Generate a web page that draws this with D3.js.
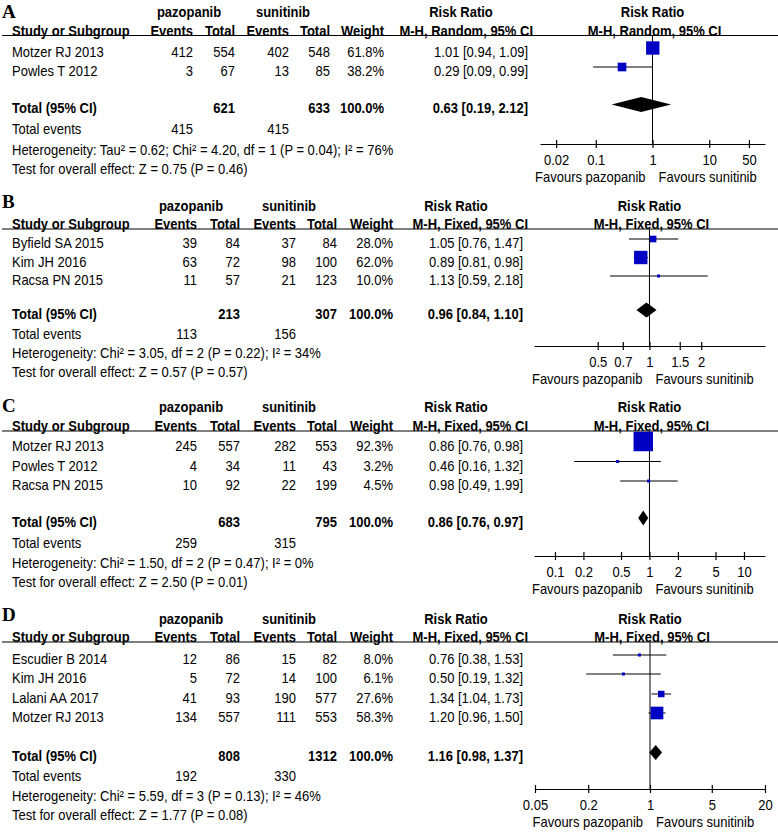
<!DOCTYPE html>
<html lang="en">
<head>
<meta charset="UTF-8">
<title>Pazopanib vs sunitinib - forest plots</title>
<script src="https://d3js.org/d3.v7.min.js"></script>
<style>
    body { margin: 0; background: #fff; }
    svg text { font-family: "Liberation Sans", Arial, sans-serif; font-size: 13px; fill: #000; }
    .bold { font-weight: bold; }
    .letter { font-family: "Liberation Serif", "Times New Roman", serif; font-size: 19px; font-weight: bold; }
</style>
</head>
<body>
<svg width="778" height="832"></svg>
<script>
    // ---------- panel A (M-H, Random) ----------
    const studiesA = ["Motzer RJ 2013", "Powles T 2012"];
    const evPazA = [412, 3];
    const nPazA = [554, 67];
    const evSunA = [402, 13];
    const nSunA = [548, 85];
    const weightA = [61.8, 38.2];
    const rrA = [[1.01, 0.94, 1.09], [0.29, 0.09, 0.99]];
    const totalA = [621, 633, 415, 415];   // n paz, n sun, events paz, events sun
    const pooledA = [0.63, 0.19, 2.12];
    const hetA = "Heterogeneity: Tau\u00b2 = 0.62; Chi\u00b2 = 4.20, df = 1 (P = 0.04); I\u00b2 = 76%";
    const testA = "Test for overall effect: Z = 0.75 (P = 0.46)";
    const ticksA = [0.02, 0.1, 1, 10, 50];

    // ---------- panel B ----------
    const studiesB = ["Byfield SA 2015", "Kim JH 2016", "Racsa PN 2015"];
    const evPazB = [39, 63, 11];
    const nPazB = [84, 72, 57];
    const evSunB = [37, 98, 21];
    const nSunB = [84, 100, 123];
    const weightB = [28.0, 62.0, 10.0];
    const rrB = [[1.05, 0.76, 1.47], [0.89, 0.81, 0.98], [1.13, 0.59, 2.18]];
    const totalB = [213, 307, 113, 156];
    const pooledB = [0.96, 0.84, 1.10];
    const hetB = "Heterogeneity: Chi\u00b2 = 3.05, df = 2 (P = 0.22); I\u00b2 = 34%";
    const testB = "Test for overall effect: Z = 0.57 (P = 0.57)";
    const ticksB = [0.5, 0.7, 1, 1.5, 2];

    // ---------- panel C ----------
    const studiesC = ["Motzer RJ 2013", "Powles T 2012", "Racsa PN 2015"];
    const evPazC = [245, 4, 10];
    const nPazC = [557, 34, 92];
    const evSunC = [282, 11, 22];
    const nSunC = [553, 43, 199];
    const weightC = [92.3, 3.2, 4.5];
    const rrC = [[0.86, 0.76, 0.98], [0.46, 0.16, 1.32], [0.98, 0.49, 1.99]];
    const totalC = [683, 795, 259, 315];
    const pooledC = [0.86, 0.76, 0.97];
    const hetC = "Heterogeneity: Chi\u00b2 = 1.50, df = 2 (P = 0.47); I\u00b2 = 0%";
    const testC = "Test for overall effect: Z = 2.50 (P = 0.01)";
    const ticksC = [0.1, 0.2, 0.5, 1, 2, 5, 10];

    // ---------- panel D ----------
    const studiesD = ["Escudier B 2014", "Kim JH 2016", "Lalani AA 2017", "Motzer RJ 2013"];
    const evPazD = [12, 5, 41, 134];
    const nPazD = [86, 72, 93, 557];
    const evSunD = [15, 14, 190, 111];
    const nSunD = [82, 100, 577, 553];
    const weightD = [8.0, 6.1, 27.6, 58.3];
    const rrD = [[0.76, 0.38, 1.53], [0.50, 0.19, 1.32], [1.34, 1.04, 1.73], [1.20, 0.96, 1.50]];
    const totalD = [808, 1312, 192, 330];
    const pooledD = [1.16, 0.98, 1.37];
    const hetD = "Heterogeneity: Chi\u00b2 = 5.59, df = 3 (P = 0.13); I\u00b2 = 46%";
    const testD = "Test for overall effect: Z = 1.77 (P = 0.08)";
    const ticksD = [0.05, 0.2, 1, 5, 20];

    const svg = d3.select("svg");

    // box width grows with weight
    const boxSize = d3.scaleLinear().domain([0, 100]).range([1, 21]);
    // the scanned figure is a little taller than wide, stretch glyphs to match
    const stretchY = 1.1;

    const colsWide = [197, 240, 296, 337, 393];

    const panels = [
        {letter: "A", method: "M-H, Random, 95% CI", studies: studiesA, evPaz: evPazA, nPaz: nPazA, evSun: evSunA, nSun: nSunA,
         weight: weightA, rr: rrA, total: totalA, pooled: pooledA, het: hetA, test: testA, ticks: ticksA,
         lay: {letterY: 11, head1: 12, line: 35.5, rows: [52, 71], total: 108, ev: 129, het: 150, test: 169, axis: 144,
               cols: [193, 235, 289, 330, 384], rrRight: 528, pazC: 189, sunC: 283,
               range: [540, 765], domain: [0.0104, 96]}},
        {letter: "B", method: "M-H, Fixed, 95% CI", studies: studiesB, evPaz: evPazB, nPaz: nPazB, evSun: evSunB, nSun: nSunB,
         weight: weightB, rr: rrB, total: totalB, pooled: pooledB, het: hetB, test: testB, ticks: ticksB,
         lay: {letterY: 201, head1: 206, line: 229, rows: [243, 261.5, 280], total: 313.5, ev: 334, het: 353, test: 372, axis: 346,
               cols: colsWide, rrRight: 523, pazC: 191, sunC: 289,
               range: [534, 765], domain: [0.213, 4.7]}},
        {letter: "C", method: "M-H, Fixed, 95% CI", studies: studiesC, evPaz: evPazC, nPaz: nPazC, evSun: evSunC, nSun: nSunC,
         weight: weightC, rr: rrC, total: totalC, pooled: pooledC, het: hetC, test: testC, ticks: ticksC,
         lay: {letterY: 405, head1: 407, line: 431, rows: [445.5, 465.5, 485], total: 521.5, ev: 543, het: 563, test: 582, axis: 556,
               cols: colsWide, rrRight: 523, pazC: 191, sunC: 289,
               range: [534, 765], domain: [0.06, 16.7]}},
        {letter: "D", method: "M-H, Fixed, 95% CI", studies: studiesD, evPaz: evPazD, nPaz: nPazD, evSun: evSunD, nSun: nSunD,
         weight: weightD, rr: rrD, total: totalD, pooled: pooledD, het: hetD, test: testD, ticks: ticksD,
         lay: {letterY: 614, head1: 619, line: 642, rows: [659, 678, 698, 717], total: 756, ev: 776, het: 796, test: 815, axis: 789,
               cols: colsWide, rrRight: 523, pazC: 191, sunC: 289,
               range: [535, 765], domain: [0.05, 20]}}
    ];

    function txt(g, x, y, s, anchor, bold) {
        return g.append("text")
            .attr("transform", "translate(" + x + "," + y + ") scale(1," + stretchY + ")")
            .attr("dy", "0.35em")
            .attr("text-anchor", anchor || "start")
            .attr("class", bold ? "bold" : null)
            .text(s);
    }

    function fmtRR(r) {
        return r[0].toFixed(2) + " [" + r[1].toFixed(2) + ", " + r[2].toFixed(2) + "]";
    }

    function drawPanel(p) {
        const L = p.lay;
        const g = svg.append("g");
        const x = d3.scaleLog().domain(L.domain).range(L.range);
        const x1 = x(1);
        const c = L.cols;

        // panel letter
        g.append("text").attr("class", "letter")
            .attr("x", 2).attr("y", L.letterY).attr("dy", "0.35em").text(p.letter);

        // header lines
        const h2 = L.line - 5;
        txt(g, L.pazC, L.head1, "pazopanib", "middle", true);
        txt(g, L.sunC, L.head1, "sunitinib", "middle", true);
        txt(g, L.rrRight - 67, L.head1, "Risk Ratio", "middle", true);
        txt(g, x1, L.head1, "Risk Ratio", "middle", true);

        txt(g, 12, h2, "Study or Subgroup", "start", true);
        ["Events", "Total", "Events", "Total", "Weight"].forEach(function (h, i) {
            txt(g, c[i], h2, h, "end", true);
        });
        txt(g, L.rrRight + 5, h2, p.method, "end", true);
        txt(g, x1 + 2, h2, p.method, "middle", true);

        g.append("line")
            .attr("x1", 2).attr("x2", 778)
            .attr("y1", L.line).attr("y2", L.line)
            .attr("stroke", "#000").attr("stroke-width", 1.2);

        // reference line at RR = 1
        g.append("line")
            .attr("x1", x1).attr("x2", x1)
            .attr("y1", L.line).attr("y2", L.axis)
            .attr("stroke", "#000").attr("stroke-width", 1);

        // study rows
        p.studies.forEach(function (s, i) {
            const y = L.rows[i];
            txt(g, 12, y, s);
            txt(g, c[0], y, p.evPaz[i], "end");
            txt(g, c[1], y, p.nPaz[i], "end");
            txt(g, c[2], y, p.evSun[i], "end");
            txt(g, c[3], y, p.nSun[i], "end");
            txt(g, c[4], y, p.weight[i].toFixed(1) + "%", "end");
            txt(g, L.rrRight, y, fmtRR(p.rr[i]), "end");

            const ym = y - 4;
            g.append("line")
                .attr("x1", x(p.rr[i][1])).attr("x2", x(p.rr[i][2]))
                .attr("y1", ym).attr("y2", ym)
                .attr("stroke", "#000").attr("stroke-width", 1);
            const s2 = Math.max(3, boxSize(p.weight[i]));
            g.append("rect")
                .attr("x", x(p.rr[i][0]) - s2 / 2).attr("y", ym - s2 / 2)
                .attr("width", s2).attr("height", s2)
                .attr("fill", "#0000c4");
        });

        // total row
        txt(g, 12, L.total, "Total (95% CI)", "start", true);
        txt(g, c[1], L.total, p.total[0], "end", true);
        txt(g, c[3], L.total, p.total[1], "end", true);
        txt(g, c[4], L.total, "100.0%", "end", true);
        txt(g, L.rrRight, L.total, fmtRR(p.pooled), "end", true);

        const yd = L.total - 3.5;
        const hd = 7.5;
        g.append("path")
            .attr("d", d3.line()([
                [x(p.pooled[1]), yd], [x(p.pooled[0]), yd - hd],
                [x(p.pooled[2]), yd], [x(p.pooled[0]), yd + hd]
            ]) + "Z")
            .attr("fill", "#000");

        txt(g, 12, L.ev, "Total events");
        txt(g, c[0], L.ev, p.total[2], "end");
        txt(g, c[2], L.ev, p.total[3], "end");
        txt(g, 12, L.het, p.het);
        txt(g, 12, L.test, p.test);

        // log axis
        const axis = d3.axisBottom(x)
            .tickValues(p.ticks)
            .tickFormat(function (d) { return String(d); })
            .tickSizeInner(4)
            .tickSizeOuter(0);
        const ag = g.append("g")
            .attr("transform", "translate(0," + L.axis + ")")
            .call(axis);
        ag.attr("font-family", null).attr("font-size", null);
        ag.select(".domain").attr("stroke-width", 1.2);
        ag.selectAll(".tick line").attr("y1", -4).attr("stroke-width", 1.2);
        ag.selectAll(".tick text")
            .attr("y", null)
            .attr("dy", "0.35em")
            .attr("transform", "translate(0,16) scale(1," + stretchY + ")");

        txt(g, x1 - 7, L.axis + 33, "Favours pazopanib", "end");
        txt(g, x1 + 6, L.axis + 33, "Favours sunitinib", "start");
    }

    panels.forEach(drawPanel);
</script>
</body>
</html>
